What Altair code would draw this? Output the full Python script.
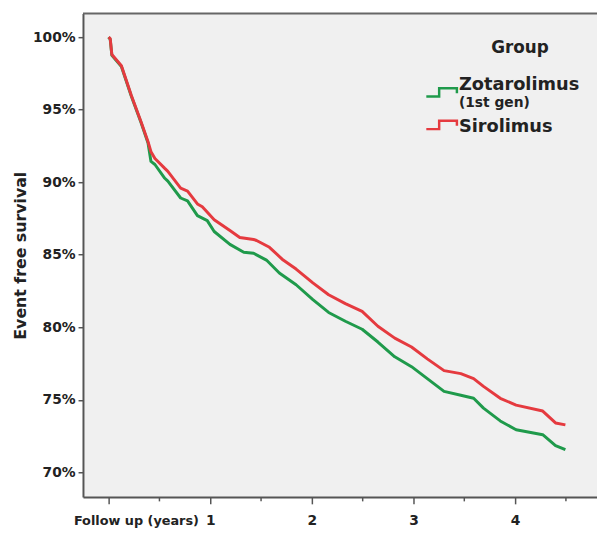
import altair as alt
import pandas as pd

# ---- data (years, event free survival %) ----
group_names = ["Zotarolimus (1st gen)", "Sirolimus"]

siro_years = [0.0, 0.016, 0.032, 0.126, 0.223, 0.320, 0.388, 0.417, 0.456, 0.553,
              0.583, 0.709, 0.777, 0.874, 0.922, 1.039, 1.194, 1.291, 1.359, 1.427,
              1.456, 1.583, 1.718, 1.845, 2.010, 2.165, 2.330, 2.495, 2.650, 2.816,
              2.981, 3.136, 3.301, 3.466, 3.592, 3.689, 3.854, 4.010, 4.272, 4.398, 4.495]
siro_surv = [100.0, 99.9, 98.80, 98.03, 95.99, 94.15, 92.79, 92.10, 91.63, 90.95,
             90.75, 89.59, 89.39, 88.50, 88.30, 87.41, 86.67, 86.19, 86.12, 86.05,
             85.98, 85.51, 84.63, 84.01, 83.06, 82.24, 81.63, 81.09, 80.07, 79.25,
             78.64, 77.82, 77.01, 76.80, 76.46, 75.92, 75.10, 74.63, 74.22, 73.40, 73.27]

zota_years = [0.0, 0.016, 0.032, 0.126, 0.223, 0.320, 0.388, 0.417, 0.456, 0.553,
              0.583, 0.709, 0.777, 0.874, 0.971, 1.039, 1.194, 1.330, 1.427, 1.553,
              1.680, 1.845, 2.010, 2.165, 2.330, 2.495, 2.650, 2.816, 2.981, 3.136,
              3.301, 3.466, 3.592, 3.689, 3.854, 4.010, 4.272, 4.398, 4.495]
zota_surv = [100.0, 99.85, 98.75, 97.98, 95.94, 94.10, 92.70, 91.43, 91.22, 90.27,
             90.07, 88.91, 88.71, 87.69, 87.35, 86.60, 85.71, 85.17, 85.10, 84.63,
             83.74, 82.93, 81.90, 81.02, 80.41, 79.86, 78.98, 77.96, 77.28, 76.46,
             75.58, 75.31, 75.10, 74.42, 73.54, 72.93, 72.59, 71.84, 71.56]

x_tick_values = [0, 0.5, 1, 1.5, 2, 2.5, 3, 3.5, 4, 4.5]
y_tick_values = [70, 75, 80, 85, 90, 95, 100]

legend_title = "Group"
legend_line1 = "Zotarolimus"
legend_line2 = "(1st gen)"
legend_red = "Sirolimus"

GREEN = "#1f9a4b"
RED = "#e53a3f"
AXIS = "#555555"
FONT = "DejaVu Sans"
BG = "#f0f0f0"

W, H = 521, 490

df = pd.concat([
    pd.DataFrame({"years": zota_years, "surv": zota_surv, "group": group_names[0]}),
    pd.DataFrame({"years": siro_years, "surv": siro_surv, "group": group_names[1]}),
])

x_enc = alt.X(
    "years:Q",
    scale=alt.Scale(domain=[-0.252, 4.806], nice=False, zero=False),
    axis=alt.Axis(
        values=x_tick_values,
        format=".0f",
        labelExpr="datum.value > 0 && datum.value % 1 === 0 ? datum.label : ''",
        tickSize={"condition": {"test": "datum.value % 1 === 0", "value": 7}, "value": 4},
        tickColor=AXIS, tickWidth=1.5,
        domainColor=AXIS, domainWidth=2,
        labelFont=FONT, labelFontSize=14, labelFontWeight="bold", labelColor="#222222",
        labelPadding=10,
        grid=False,
        title="Follow up (years)",
        titleFont=FONT, titleFontSize=13, titleFontWeight="bold", titleColor="#222222",
        titleX=117, titleY=24, titleAlign="right", titleBaseline="middle",
    ),
)
y_enc = alt.Y(
    "surv:Q",
    scale=alt.Scale(domain=[68.3, 101.63], nice=False, zero=False),
    axis=alt.Axis(
        values=y_tick_values,
        labelExpr="datum.value + '%'",
        tickSize=5, tickColor=AXIS, tickWidth=1.5,
        domainColor=AXIS, domainWidth=2,
        labelFont=FONT, labelFontSize=14, labelFontWeight="bold", labelColor="#222222",
        labelPadding=3,
        grid=False,
        title="Event free survival",
        titleFont=FONT, titleFontSize=16, titleFontWeight="bold", titleColor="#222222",
        titleX=-63, titleY=H / 2, titleAlign="center", titleBaseline="middle", titleAngle=270,
    ),
)

base = alt.Chart(df)
zota = base.transform_filter(alt.datum.group == group_names[0]).mark_line(
    color=GREEN, strokeWidth=3, strokeJoin="round").encode(x=x_enc, y=y_enc)
siro = base.transform_filter(alt.datum.group == group_names[1]).mark_line(
    color=RED, strokeWidth=3, strokeJoin="round").encode(x=x_enc, y=y_enc)

one = pd.DataFrame({"a": [0]})
top_border = alt.Chart(one).mark_rule(color="#666666", strokeWidth=2).encode(
    x=alt.value(0), x2=alt.value(W), y=alt.value(0))

def txt(s, x, y, size, align="left"):
    return alt.Chart(pd.DataFrame({"t": [s]})).mark_text(
        font=FONT, fontSize=size, fontWeight="bold", color="#222222",
        align=align, baseline="middle").encode(text="t:N", x=alt.value(x), y=alt.value(y))

step_path = "M-1,0.27L-0.16,0.27L-0.16,-0.27L1,-0.27L1,0.05"

def sym(color, y):
    return alt.Chart(one).mark_point(
        shape=step_path, size=961, filled=False, strokeWidth=2.5, color=color, opacity=1
    ).encode(x=alt.value(363.5), y=alt.value(y))

legend = (txt(legend_title, 443, 35, 17, "center")
          + sym(GREEN, 80) + txt(legend_line1, 381, 73, 18) + txt(legend_line2, 381, 91, 14)
          + sym(RED, 113) + txt(legend_red, 381, 115, 18))

chart = alt.layer(zota, siro, top_border, legend).properties(
    width=W, height=H,
    autosize=alt.AutoSizeParams(type="none"),
    padding={"left": 76, "top": 2, "right": 0, "bottom": 34},
    background="white",
).configure_view(stroke=None, fill=BG)

chart.save("out.html", embed_options={"renderer": "svg", "actions": False})
